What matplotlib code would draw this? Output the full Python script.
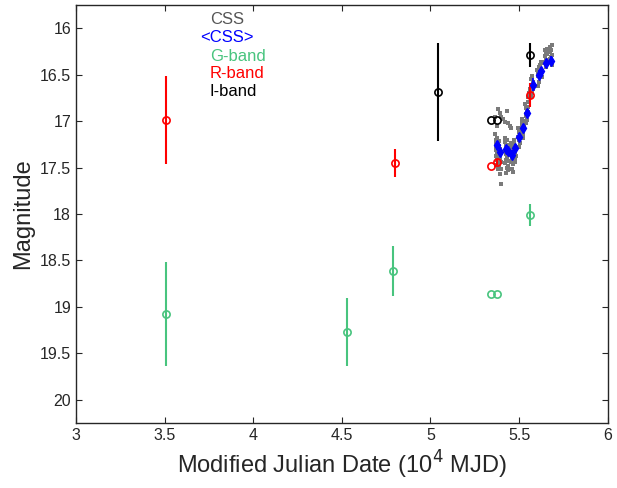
import numpy as np
import matplotlib.pyplot as plt

plt.rcParams['font.family'] = ['Liberation Sans', 'DejaVu Sans']

# CSS nightly photometry (10^4 MJD, mag)
css_x = [5.366, 5.369, 5.371, 5.374, 5.372, 5.377, 5.370, 5.380, 5.368, 5.376,
         5.386, 5.389, 5.392, 5.394, 5.388, 5.396, 5.391, 5.399, 5.393,
         5.420, 5.423, 5.427, 5.425, 5.429, 5.422, 5.430, 5.426,
         5.434, 5.437, 5.440, 5.442, 5.436,
         5.455, 5.458, 5.462, 5.465, 5.460, 5.463, 5.457,
         5.471, 5.474, 5.478, 5.480, 5.476,
         5.494, 5.497, 5.500, 5.503, 5.498, 5.505,
         5.515, 5.518, 5.521, 5.524, 5.527, 5.520,
         5.535, 5.538, 5.541, 5.545, 5.548, 5.539,
         5.548, 5.552, 5.556, 5.560, 5.553,
         5.566, 5.570, 5.573, 5.578, 5.581, 5.568, 5.575,
         5.603, 5.607, 5.610, 5.615, 5.619, 5.622, 5.628, 5.631, 5.606,
         5.644, 5.647, 5.650, 5.654, 5.657, 5.660,
         5.672, 5.675, 5.679, 5.683, 5.686, 5.680,
         5.382, 5.392, 5.400, 5.410, 5.418, 5.429, 5.437, 5.447, 5.457, 5.366, 5.375,
         5.367, 5.373, 5.379, 5.385, 5.390, 5.397, 5.419, 5.424, 5.431, 5.435,
         5.441, 5.454, 5.459, 5.464, 5.470, 5.475, 5.479, 5.496, 5.502, 5.517,
         5.522, 5.526, 5.537, 5.543, 5.569, 5.577, 5.605, 5.612, 5.618, 5.625,
         5.646, 5.652, 5.659, 5.674, 5.678, 5.684]
css_y = [17.14, 17.20, 17.28, 17.33, 17.38, 17.42, 17.47, 17.52, 17.24, 17.18,
         17.22, 17.27, 17.36, 17.41, 17.46, 17.52, 17.57, 17.68, 17.30,
         17.18, 17.23, 17.27, 17.35, 17.40, 17.45, 17.50, 17.56,
         17.20, 17.26, 17.37, 17.43, 17.48,
         17.24, 17.30, 17.40, 17.46, 17.52, 17.55, 17.36,
         17.20, 17.25, 17.33, 17.38, 17.44,
         17.08, 17.12, 17.20, 17.24, 17.28, 17.15,
         16.98, 17.02, 17.10, 17.14, 17.04, 17.18,
         16.82, 16.86, 16.95, 16.99, 16.90, 17.02,
         16.80, 16.74, 16.70, 16.66, 16.85,
         16.55, 16.62, 16.70, 16.66, 16.58, 16.74, 16.52,
         16.45, 16.52, 16.58, 16.42, 16.40, 16.48, 16.53, 16.38, 16.62,
         16.24, 16.30, 16.34, 16.42, 16.28, 16.22,
         16.20, 16.26, 16.31, 16.40, 16.18, 16.35,
         16.87, 16.91, 16.96, 16.98, 17.01, 16.89, 17.02, 17.05, 17.07, 16.96, 17.05,
         17.31, 17.36, 17.29, 17.49, 17.39, 17.44, 17.32, 17.42, 17.30, 17.53,
         17.31, 17.44, 17.27, 17.33, 17.29, 17.40, 17.27, 17.17, 17.10, 17.06,
         17.00, 17.08, 16.92, 16.88, 16.68, 16.60, 16.49, 16.46, 16.44, 16.36,
         16.36, 16.27, 16.38, 16.33, 16.24, 16.29]

# seasonal means <CSS>
mean_x = [5.373, 5.391, 5.425, 5.438, 5.461, 5.476, 5.500, 5.523, 5.542, 5.576,
          5.613, 5.626, 5.651, 5.679]
mean_y = [17.26, 17.33, 17.30, 17.32, 17.36, 17.29, 17.17, 17.07, 16.91, 16.61,
          16.50, 16.46, 16.38, 16.35]
mean_err = [0.05, 0.04, 0.04, 0.04, 0.05, 0.04, 0.04, 0.04, 0.04, 0.07,
            0.05, 0.04, 0.05, 0.05]

g_x = [3.51, 4.53, 4.79, 5.34, 5.375, 5.56]
g_y = [19.08, 19.27, 18.61, 18.86, 18.86, 18.01]
g_err = [0.56, 0.37, 0.27, 0.0, 0.0, 0.12]

r_x = [3.51, 4.80, 5.34, 5.375, 5.56]
r_y = [16.99, 17.45, 17.48, 17.44, 16.72]
r_err = [0.47, 0.15, 0.0, 0.03, 0.13]

i_x = [5.04, 5.34, 5.375, 5.56]
i_y = [16.69, 16.99, 16.99, 16.29]
i_err = [0.53, 0.0, 0.0, 0.13]

green = '#48c47e'

fig = plt.figure(figsize=(6.17, 4.88), dpi=100)
ax = fig.add_axes([0.123, 0.133, 0.862, 0.857])

ax.plot(css_x, css_y, 's', color='#7a7a7a', ms=2.6, mew=0)
ax.errorbar(mean_x, mean_y, yerr=mean_err, fmt='d', color='blue', ms=4.8,
            elinewidth=1.3, capsize=0)
for xs, ys, es, c in [(g_x, g_y, g_err, green), (r_x, r_y, r_err, 'red'),
                      (i_x, i_y, i_err, 'black')]:
    ax.errorbar(xs, ys, yerr=es, fmt='o', mfc='none', mec=c, color=c, ms=5.2,
                mew=1.2, elinewidth=1.5, capsize=0)

ax.set_xlim(3, 6)
ax.set_ylim(20.25, 15.75)
ax.set_xticks(np.arange(3, 6.01, 0.5))
ax.set_xticklabels(['3', '3.5', '4', '4.5', '5', '5.5', '6'])
ax.set_yticks(np.arange(16, 20.01, 0.5))
ax.set_yticklabels(['16', '16.5', '17', '17.5', '18', '18.5', '19', '19.5', '20'])
ax.tick_params(direction='in', top=True, right=True, length=4, width=0.8,
               labelsize=11.5, colors='#262626')
for s in ax.spines.values():
    s.set_linewidth(1.0)
    s.set_color('#262626')

ax.set_xlabel('Modified Julian Date (10$^4$ MJD)', fontsize=17, color='#262626')
ax.set_ylabel('Magnitude', fontsize=17, color='#262626')

labels = ['CSS', '<CSS>', 'G-band', 'R-band', 'I-band']
label_colors = ['#555555', 'blue', green, 'red', 'black']
label_x = [0.252, 0.233, 0.252, 0.252, 0.252]
label_y = [0.966, 0.922, 0.876, 0.835, 0.794]
for t, c, lx, ly in zip(labels, label_colors, label_x, label_y):
    ax.text(lx, ly, t, color=c, fontsize=12, transform=ax.transAxes,
            ha='left', va='center')

fig.savefig('out.png', dpi=100)
